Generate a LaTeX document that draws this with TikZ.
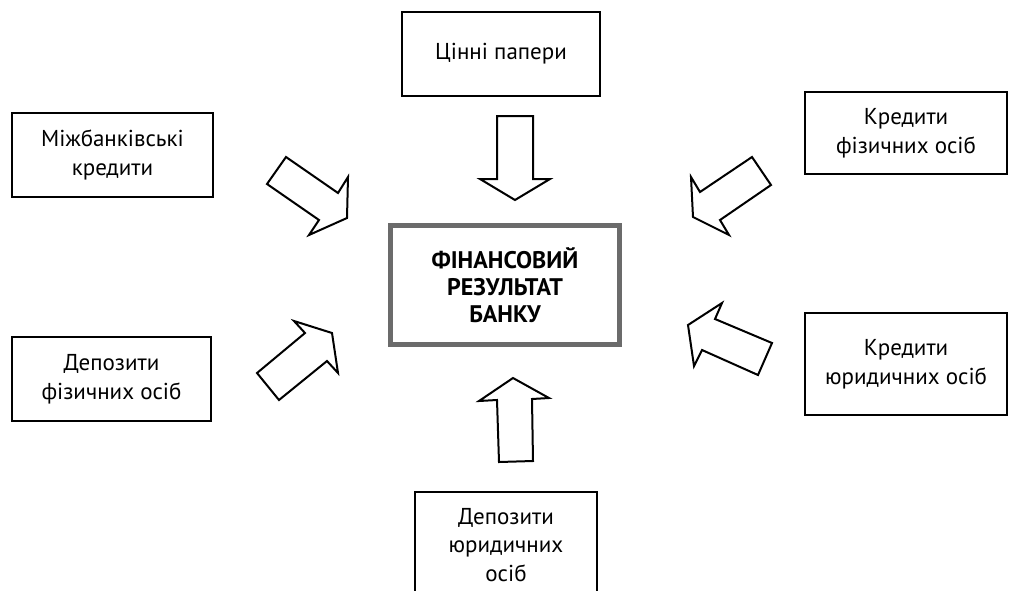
\documentclass[tikz,border=0pt]{standalone}
\usepackage{fontspec}
\setmainfont{PT Sans}
\usetikzlibrary{calc}
\tikzset{
	srcbox/.style={draw=black, line width=2pt, align=center, inner sep=0pt, font=\fontsize{23}{28.5}\selectfont},
	resbox/.style={draw=black!58, line width=5pt, align=center, inner sep=0pt, font=\bfseries\fontsize{24}{27}\selectfont},
	blockarrow/.style={draw=black, line width=2pt, line join=miter, fill=white}
}

\begin{document}
\begin{tikzpicture}[x=1pt, y=-1pt]
		%%%%% START %%%%%
		\useasboundingbox (0, 0) rectangle (1014, 590);
		\clip (0, 0) rectangle (1014, 590);
		
		\node[resbox, minimum width=229, minimum height=119] (rezultat) at (505, 285) {ФІНАНСОВИЙ\\РЕЗУЛЬТАТ\\БАНКУ};
		
		\node[srcbox, minimum width=198, minimum height=84] (cinni) at (501, 54) {Цінні папери};
		\node[srcbox, minimum width=201, minimum height=84] (mizhbank) at (112.5, 155) {Міжбанківські\\кредити};
		\node[srcbox, minimum width=202, minimum height=82] (kredfiz) at (906, 133) {Кредити\\фізичних осіб};
		\node[srcbox, minimum width=199, minimum height=84] (depfiz) at (111.5, 379) {Депозити\\фізичних осіб};
		\node[srcbox, minimum width=202, minimum height=102] (kredyur) at (906, 364) {Кредити\\юридичних осіб};
		\node[srcbox, minimum width=182, minimum height=106] (depyur) at (506, 545) {Депозити\\юридичних\\осіб};
		
		% arrows towards the result
		\draw[blockarrow] (497, 116) -- (533, 116) -- (533, 179) -- (550, 179) -- (515, 200) -- (480, 179) -- (497, 179) -- cycle;
		\draw[blockarrow] (499, 462) -- (533, 461) -- (532, 399) -- (549, 398) -- (513, 378) -- (479, 401) -- (497, 400) -- cycle;
		
		\draw[blockarrow] (286, 157) -- (338, 193) -- (348, 177) -- (347, 218) -- (309, 235) -- (319, 220) -- (267, 184) -- cycle;
		\draw[blockarrow] (257, 373) -- (305, 333) -- (294, 321) -- (332, 333) -- (338, 373) -- (327, 361) -- (279, 400) -- cycle;
		
		\draw[blockarrow] (752, 157) -- (700, 192) -- (691, 177) -- (693, 217) -- (729, 235) -- (720, 220) -- (771, 185) -- cycle;
		\draw[blockarrow] (772, 343) -- (715, 319) -- (722, 303) -- (688, 325) -- (694, 366) -- (702, 350) -- (758, 375) -- cycle;
		
		%%%%% END %%%%%
\end{tikzpicture}
\end{document}
